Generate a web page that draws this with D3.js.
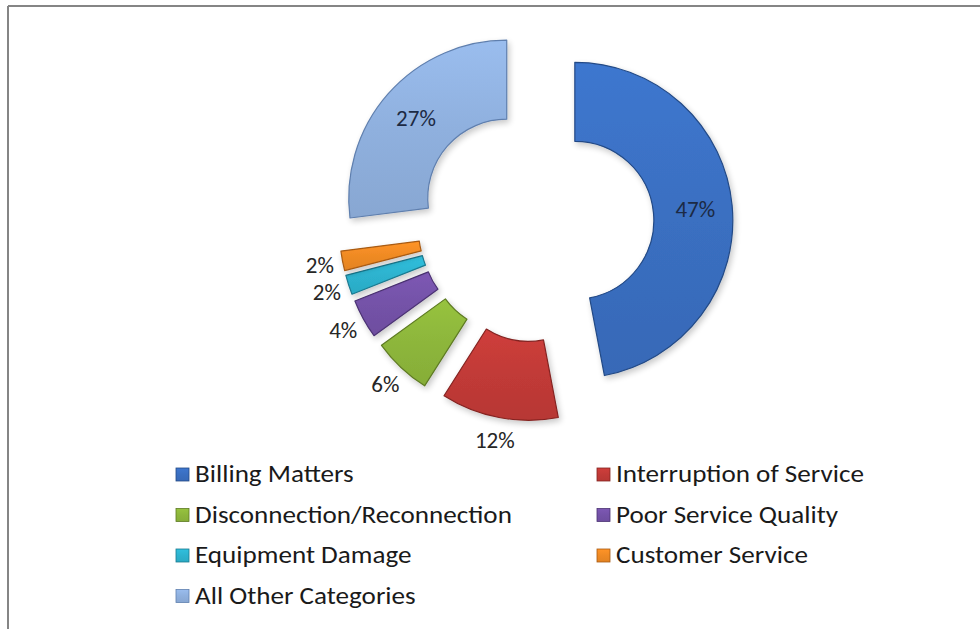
<!DOCTYPE html>
<html>
<head>
<meta charset="utf-8">
<script src="https://cdn.jsdelivr.net/npm/d3@7/dist/d3.min.js"></script>
<style>
html,body{margin:0;padding:0;background:#fff;}
svg{display:block;}
</style>
</head>
<body>
<svg id="chart" width="980" height="629"></svg>
<script>
const categories = ["Billing Matters","Interruption of Service","Disconnection/Reconnection","Poor Service Quality","Equipment Damage","Customer Service","All Other Categories"];
const values = [47, 12, 6, 4, 2, 2, 27];
const valueLabels = ["47%","12%","6%","4%","2%","2%","27%"];

const colors = ["#3a6fc1","#c13a37","#8db63b","#7452a8","#2db3cf","#ef8a24","#8fb0de"];
const strokes = ["#234a86","#842320","#5d7a22","#4b3273","#1a7a90","#a85a12","#5f7fae"];

const svg = d3.select("#chart");
const W = 980, H = 629;
const font = "Carlito, Lato, 'Open Sans', sans-serif";

// frame
svg.append("rect").attr("x",0).attr("y",0).attr("width",W).attr("height",H).attr("fill","#fff");
svg.append("line").attr("x1",8).attr("x2",W).attr("y1",6).attr("y2",6).attr("stroke","#858585").attr("stroke-width",2);
svg.append("line").attr("x1",8).attr("x2",8).attr("y1",6).attr("y2",H).attr("stroke","#858585").attr("stroke-width",2);

const defs = svg.append("defs");
const shadow = defs.append("filter").attr("id","shadow").attr("x","-20%").attr("y","-20%").attr("width","140%").attr("height","140%");
shadow.append("feGaussianBlur").attr("in","SourceAlpha").attr("stdDeviation",3).attr("result","blur");
shadow.append("feOffset").attr("in","blur").attr("dx",2).attr("dy",3).attr("result","off");
shadow.append("feComponentTransfer").attr("in","off").attr("result","sh").append("feFuncA").attr("type","linear").attr("slope",0.22);
const m = shadow.append("feMerge");
m.append("feMergeNode").attr("in","sh");
m.append("feMergeNode").attr("in","SourceGraphic");

colors.forEach((c,i)=>{
  const g = defs.append("linearGradient").attr("id","g"+i).attr("x1","0").attr("y1","0").attr("x2","0").attr("y2","1");
  g.append("stop").attr("offset","0%").attr("stop-color",d3.color(c).brighter(0.2));
  g.append("stop").attr("offset","50%").attr("stop-color",c);
  g.append("stop").attr("offset","100%").attr("stop-color",d3.color(c).darker(0.15));
});

const cx = 536, cy = 224, R = 158, r0 = 79, explode = 39;
const inLabelR = 160, outLabelR = 220;
const pie = d3.pie().sort(null).value(d=>d).startAngle(0).endAngle(2*Math.PI);
const arcs = pie(values);
const arc = d3.arc().innerRadius(r0).outerRadius(R);

const g = svg.append("g").attr("transform",`translate(${cx},${cy})`);
const slice = g.selectAll("g.slice").data(arcs).enter().append("g").attr("class","slice")
  .attr("transform", d=>{
    const a = (d.startAngle+d.endAngle)/2;
    return `translate(${explode*Math.sin(a)},${-explode*Math.cos(a)})`;
  });
slice.append("path").attr("d",arc)
  .attr("fill",(d,i)=>`url(#g${i})`)
  .attr("stroke",(d,i)=>strokes[i]).attr("stroke-width",1.2)
  .attr("stroke-linejoin","round")
  .attr("filter","url(#shadow)");

// labels
const lr = d => d.data>20 ? inLabelR : outLabelR;
g.selectAll("text.lbl").data(arcs).enter().append("text").attr("class","lbl")
  .attr("x", d=>{ const a=(d.startAngle+d.endAngle)/2; return lr(d)*Math.sin(a); })
  .attr("y", d=>{ const a=(d.startAngle+d.endAngle)/2; return -lr(d)*Math.cos(a); })
  .attr("text-anchor","middle").attr("dominant-baseline","central")
  .attr("font-family",font).attr("font-size",23).attr("fill",(d)=> d.data>20 ? "#1c2a44" : "#262626")
  .text((d,i)=>valueLabels[i]);

// legend
const legX = [176, 597], legY0 = 474.5, legDY = 40.5;
const leg = svg.append("g");
categories.forEach((c,i)=>{
  const col = i%2, row = Math.floor(i/2);
  const x = legX[col], y = legY0 + row*legDY;
  leg.append("rect").attr("x",x).attr("y",y-6.5).attr("width",13).attr("height",13)
    .attr("fill",`url(#g${i})`).attr("stroke",strokes[i]).attr("stroke-width",0.8);
  leg.append("text").attr("transform",`translate(${x+19},${y}) scale(1.13,1)`)
    .attr("dominant-baseline","central")
    .attr("font-family",font).attr("font-size",24).attr("fill","#1a1a1a").text(c);
});
</script>
</body>
</html>
